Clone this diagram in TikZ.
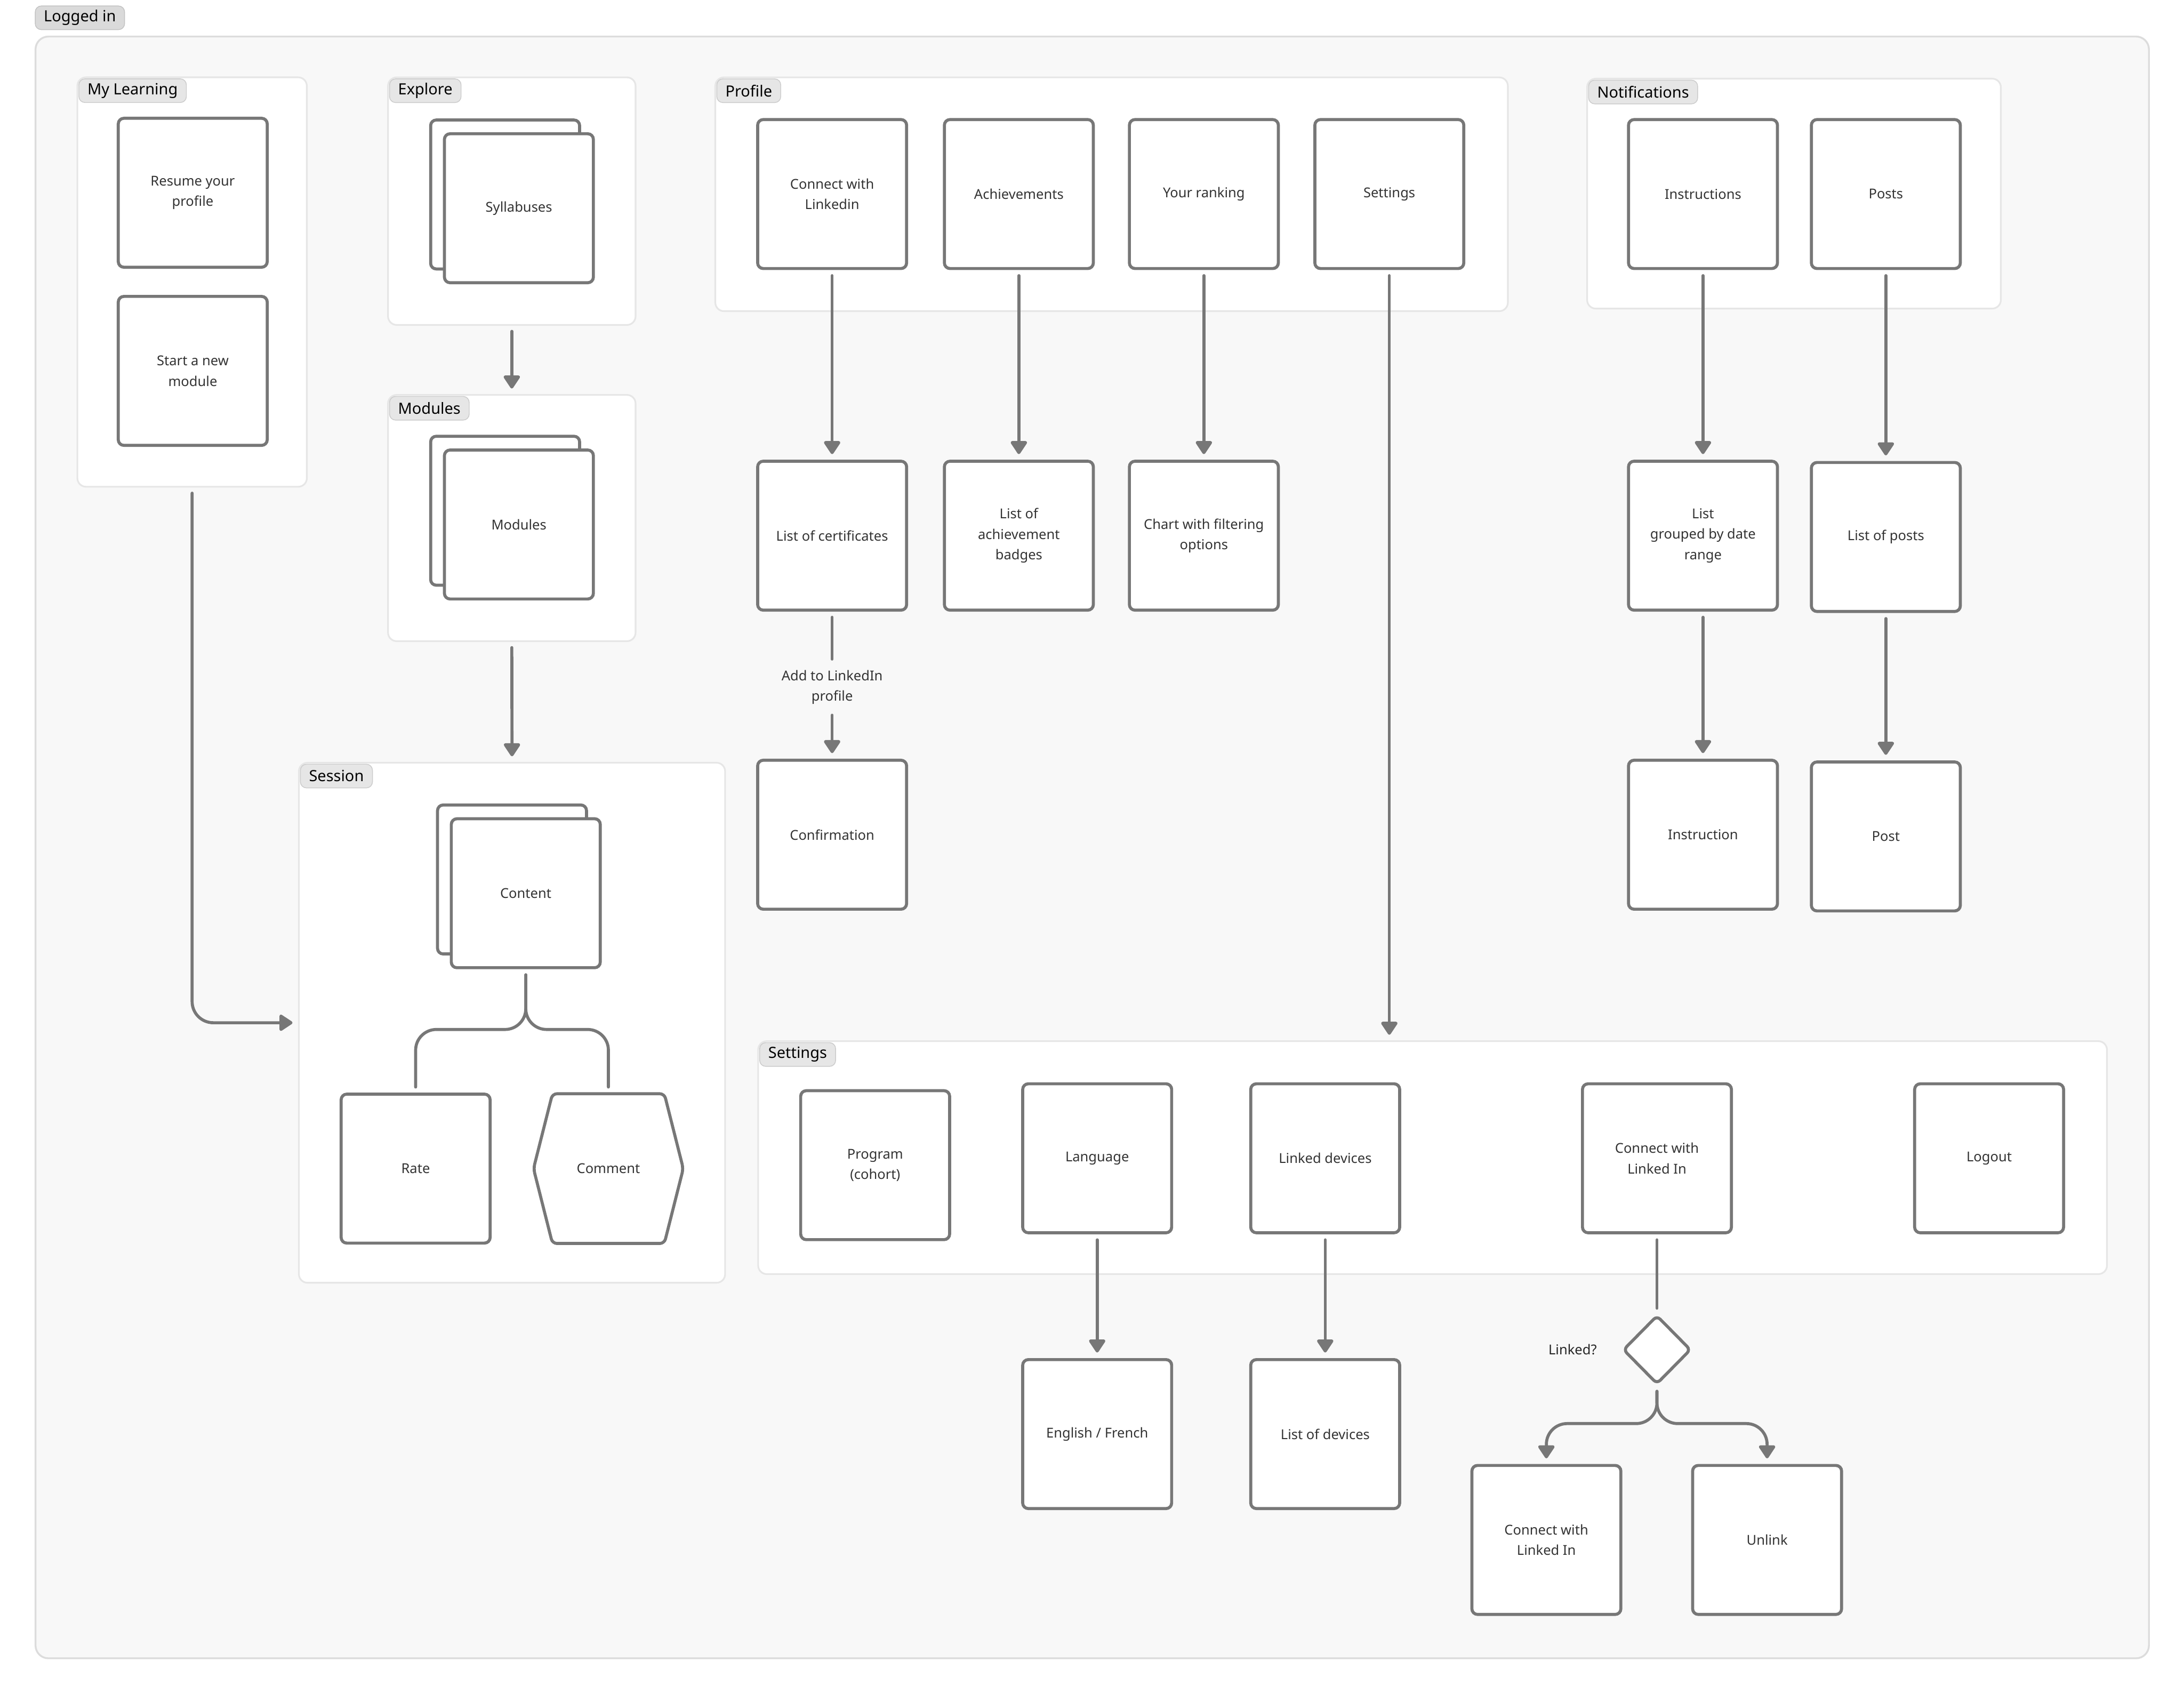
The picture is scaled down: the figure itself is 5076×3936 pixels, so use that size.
\documentclass[tikz,border=0pt]{standalone}
\usepackage{fontspec}
\setmainfont{Noto Sans}
\usetikzlibrary{arrows.meta,shapes.geometric,calc}
\definecolor{boxline}{HTML}{777777}
\definecolor{txt}{HTML}{333333}
\definecolor{outerfill}{HTML}{F8F8F8}
\definecolor{outerline}{HTML}{DCDCDC}
\definecolor{grpline}{HTML}{E6E6E6}
\definecolor{tabfill}{HTML}{E6E6E6}
\definecolor{tabline}{HTML}{CBCBCB}
\definecolor{tabfilldark}{HTML}{DADADA}
\definecolor{tablinedark}{HTML}{C2C2C2}
\begin{document}
\begin{tikzpicture}[x=0.01cm,y=-0.01cm,
  card/.style={draw=boxline, fill=white, line width=2pt, rounded corners=3.7pt,
    minimum width=3.46cm, minimum height=3.46cm, align=center, text=txt,
    font=\fontsize{9}{13.6}\selectfont, inner sep=2pt},
  grp/.style={draw=grpline, fill=white, line width=1.1pt, rounded corners=5.7pt},
  tab/.style={draw=tabline, fill=tabfill, line width=0.5pt, rounded corners=4pt,
    anchor=north west, minimum height=0.55cm, inner xsep=0.2cm, inner ysep=0pt,
    font=\fontsize{10.2}{12}\selectfont, text=black},
  conn/.style={draw=boxline, line width=2pt, line cap=round, shorten <=3.7pt, shorten >=3.7pt},
  arr/.style={conn, -{Triangle[width=12pt,length=9.5pt,round]}},
  lbl/.style={text=txt, font=\fontsize{9}{13.6}\selectfont, align=center},
  diam/.style={diamond, draw=boxline, fill=white, line width=2pt, rounded corners=3pt,
    minimum width=1.58cm, minimum height=1.6cm, inner sep=0pt}
]
\useasboundingbox (0,0) rectangle (5076,3936);
\fill[white] (0,0) rectangle (5076,3936);

% outer container
\node[draw=outerline, fill=outerfill, line width=1.2pt, rounded corners=8.5pt,
  minimum width=49.09cm, minimum height=37.67cm] (outer) at (2538.5,1969.5) {};
\node[tab, fill=tabfilldark, draw=tablinedark] (tlog) at (81,13) {Logged in};

% groups
\node[grp, minimum width=5.33cm, minimum height=9.51cm] (myl) at (446.5,655.5) {};
\node[grp, minimum width=5.75cm, minimum height=5.75cm] (explore) at (1189.5,467.5) {};
\node[grp, minimum width=5.75cm, minimum height=5.72cm] (modulesG) at (1189.5,1204) {};
\node[grp, minimum width=9.90cm, minimum height=12.08cm] (session) at (1190,2377) {};
\node[grp, minimum width=18.41cm, minimum height=5.43cm] (profile) at (2583.5,451.5) {};
\node[grp, minimum width=9.61cm, minimum height=5.34cm] (notif) at (4169.5,450) {};
\node[grp, minimum width=31.33cm, minimum height=5.41cm] (settingsG) at (3329.5,2690.5) {};

% tabs
\node[tab] (tml) at ([xshift=1.3pt,yshift=-1.3pt]myl.north west) {My Learning};
\node[tab] (tex) at ([xshift=1.3pt,yshift=-1.3pt]explore.north west) {Explore};
\node[tab] (tmo) at ([xshift=1.3pt,yshift=-1.3pt]modulesG.north west) {Modules};
\node[tab] (tse) at ([xshift=1.3pt,yshift=-1.3pt]session.north west) {Session};
\node[tab] (tpr) at ([xshift=1.3pt,yshift=-1.3pt]profile.north west) {Profile};
\node[tab] (tno) at ([xshift=1.3pt,yshift=-1.3pt]notif.north west) {Notifications};
\node[tab] (tst) at ([xshift=1.3pt,yshift=-1.3pt]settingsG.north west) {Settings};

% My Learning
\node[card] (resume) at (448,448) {Resume your\\profile};
\node[card] (startnew) at (448,862) {Start a new\\module};

% Explore / Modules
\node[card] (sylb) at (1174,452) {};
\node[card] (syl) at (1206,484) {Syllabuses};
\node[card] (modb) at (1174,1187) {};
\node[card] (mod) at (1206,1219) {Modules};

% Session
\node[card] (conb) at (1190,2044) {};
\node[card] (con) at (1222,2076) {Content};
\node[card] (rate) at (966,2716) {Rate};
\draw[draw=boxline, fill=white, line width=2pt, rounded corners=3pt, shift={(1414,2716)}]
  (-174,0) -- (-130,-174) -- (130,-174) -- (174,0) -- (130,174) -- (-130,174) -- cycle;
\node[lbl] (comment) at (1414,2716) {Comment};

% Profile
\node[card] (conli) at (1934,451) {Connect with\\Linkedin};
\node[card] (achv) at (2368,451) {Achievements};
\node[card] (rank) at (2798,451) {Your ranking};
\node[card] (setb) at (3229,451) {Settings};
\node[card] (certs) at (1934,1245) {List of certificates};
\node[card] (badges) at (2368,1245) {List of\\achievement\\badges};
\node[card] (chart) at (2798,1245) {Chart with filtering\\options};
\node[card] (confirm) at (1934,1940) {Confirmation};
\node[lbl] (addli) at (1934,1597) {Add to LinkedIn\\profile};

% Notifications
\node[card] (instrs) at (3958,451) {Instructions};
\node[card] (posts) at (4383,451) {Posts};
\node[card] (grouped) at (3958,1245) {List\\grouped by date\\range};
\node[card] (plist) at (4383,1248) {List of posts};
\node[card] (instr) at (3958,1940) {Instruction};
\node[card] (post) at (4383,1944) {Post};

% Settings
\node[card] (prog) at (2034,2708) {Program\\(cohort)};
\node[card] (lang) at (2550,2692) {Language};
\node[card] (devs) at (3080,2692) {Linked devices};
\node[card] (conli2) at (3851,2692) {Connect with\\Linked In};
\node[card] (logout) at (4623,2692) {Logout};
\node[card] (engfr) at (2550,3333) {English / French};
\node[card] (devlist) at (3080,3333) {List of devices};
\node[diam] (dia) at (3851,3137) {};
\node[lbl, text=black!85] (linkq) at (3655,3137) {Linked?};
\node[card] (conli3) at (3594,3579) {Connect with\\Linked In};
\node[card] (unlink) at (4107,3579) {Unlink};

% connectors
\draw[arr] (explore.south) -- (modulesG.north);
\draw[arr] (modulesG.south) -- (session.north);
\draw[arr, rounded corners=14pt] (myl.south) |- (session.west);
\draw[conn, rounded corners=13.7pt] (con.south) -- ++(0,140) -| (rate.north);
\draw[conn, rounded corners=13.7pt] (con.south) -- ++(0,140) -| (comment.north |- rate.north);

\draw[arr] (conli.south) -- (certs.north);
\draw[arr] (achv.south) -- (badges.north);
\draw[arr] (rank.south) -- (chart.north);
\draw[conn] (certs.south) -- (addli.north);
\draw[arr] (addli.south) -- (confirm.north);
\draw[arr] (setb.south) -- (setb.south |- settingsG.north);

\draw[arr] (instrs.south) -- (grouped.north);
\draw[arr] (posts.south) -- (plist.north);
\draw[arr] (grouped.south) -- (instr.north);
\draw[arr] (plist.south) -- (post.north);

\draw[arr] (lang.south) -- (engfr.north);
\draw[arr] (devs.south) -- (devlist.north);
\draw[conn] (conli2.south) -- (dia.north);
\draw[arr, rounded corners=13.7pt] (dia.south) -- ++(0,88) -| (conli3.north);
\draw[arr, rounded corners=13.7pt] (dia.south) -- ++(0,88) -| (unlink.north);
\end{tikzpicture}
\end{document}
